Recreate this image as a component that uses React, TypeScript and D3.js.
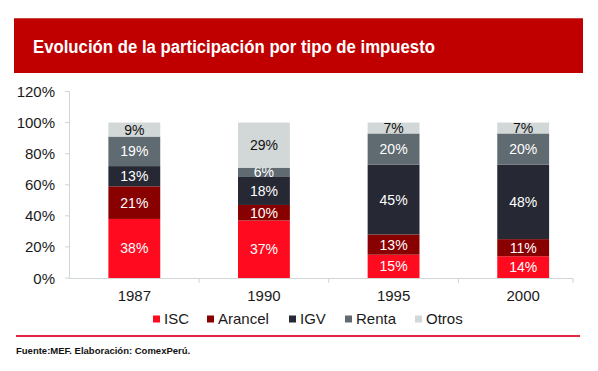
import React from "react";
import * as d3 from "d3";

const years = ["1987", "1990", "1995", "2000"];
const seriesNames = ["ISC", "Arancel", "IGV", "Renta", "Otros"];
const isc = [38, 37, 15, 14];
const arancel = [21, 10, 13, 11];
const igv = [13, 18, 45, 48];
const renta = [19, 6, 20, 20];
const otros = [9, 29, 7, 7];
const yTicks = [0, 20, 40, 60, 80, 100, 120];
const colors = ["#FF0A1E", "#880000", "#262834", "#5F6A71", "#D2D7D7"];
const labelColors = ["#fff", "#fff", "#fff", "#fff", "#111"];
const legendX = [153, 207, 289, 345, 415];

const FONT = "'Liberation Sans', Arial, sans-serif";

export default function App() {
  const seriesValues = [isc, arancel, igv, renta, otros];
  const rows = years.map((y, i) => {
    const r: any = { year: y };
    seriesNames.forEach((s, k) => (r[s] = seriesValues[k][i]));
    return r;
  });
  const stacked = d3.stack().keys(seriesNames)(rows);

  const x = d3
    .scaleBand()
    .domain(years)
    .range([69.5, 588])
    .paddingInner(0.6)
    .paddingOuter(0.3);
  const y = d3.scaleLinear().domain([0, 120]).range([278, 91.5]);

  const step = x.step();
  const axisEnd = 573;

  return (
    <svg
      width={598}
      height={371}
      style={{ position: "fixed", left: 0, top: 0, background: "#fff" }}
      fontFamily={FONT}
    >
      <rect x={14} y={18} width={569} height={55} fill="#C00000" />
      <line x1={14} x2={583} y1={18.5} y2={18.5} stroke="#C94444" strokeWidth={1} />
      <text
        x={33}
        y={53}
        fill="#fff"
        fontWeight="bold"
        fontSize={18}
        textLength={402}
        lengthAdjust="spacingAndGlyphs"
      >
        Evolución de la participación por tipo de impuesto
      </text>

      {/* y axis */}
      <line x1={69.5} x2={69.5} y1={y(120)} y2={y(0)} stroke="#D0D5D5" />
      {yTicks.map((t) => (
        <g key={t}>
          <line x1={65} x2={69.5} y1={y(t)} y2={y(t)} stroke="#D0D5D5" />
          <text x={55} y={y(t) + 5.5} textAnchor="end" fontSize={15} fill="#1a1a1a">
            {t}%
          </text>
        </g>
      ))}

      {/* bars */}
      {stacked.map((layer, k) => (
        <g key={layer.key}>
          {layer.map((d, i) => {
            const x0 = x(years[i])!;
            const y0 = y(d[1]);
            const h = y(d[0]) - y(d[1]);
            const v = seriesValues[k][i];
            return (
              <g key={i}>
                <rect x={x0} y={y0} width={x.bandwidth()} height={h} fill={colors[k]} />
                <text
                  x={x0 + x.bandwidth() / 2}
                  y={y0 + h / 2 + 5}
                  textAnchor="middle"
                  fontSize={14}
                  fill={labelColors[k]}
                >
                  {v}%
                </text>
              </g>
            );
          })}
        </g>
      ))}

      {/* x axis */}
      <line x1={69.5} x2={axisEnd} y1={278.5} y2={278.5} stroke="#D0D5D5" />
      {years.slice(1).map((yr) => (
        <line
          key={yr}
          x1={x(yr)! - (step - x.bandwidth()) / 2}
          x2={x(yr)! - (step - x.bandwidth()) / 2}
          y1={278.5}
          y2={283}
          stroke="#D0D5D5"
        />
      ))}
      <line x1={axisEnd} x2={axisEnd} y1={278.5} y2={283} stroke="#D0D5D5" />
      {years.map((yr) => (
        <text
          key={yr}
          x={x(yr)! + x.bandwidth() / 2}
          y={300.5}
          textAnchor="middle"
          fontSize={15}
          fill="#1a1a1a"
        >
          {yr}
        </text>
      ))}

      {/* legend */}
      {seriesNames.map((s, k) => (
        <g key={s}>
          <rect x={legendX[k]} y={315.5} width={7} height={7} fill={colors[k]} />
          <text x={legendX[k] + 11} y={324} fontSize={15} fill="#1a1a1a">
            {s}
          </text>
        </g>
      ))}

      <line x1={16} x2={580} y1={336} y2={336} stroke="#E0283F" strokeWidth={2} />
      <text x={16} y={354} fontSize={9.5} fontWeight="bold" fill="#111">
        Fuente:MEF. Elaboración: ComexPerú.
      </text>
    </svg>
  );
}
